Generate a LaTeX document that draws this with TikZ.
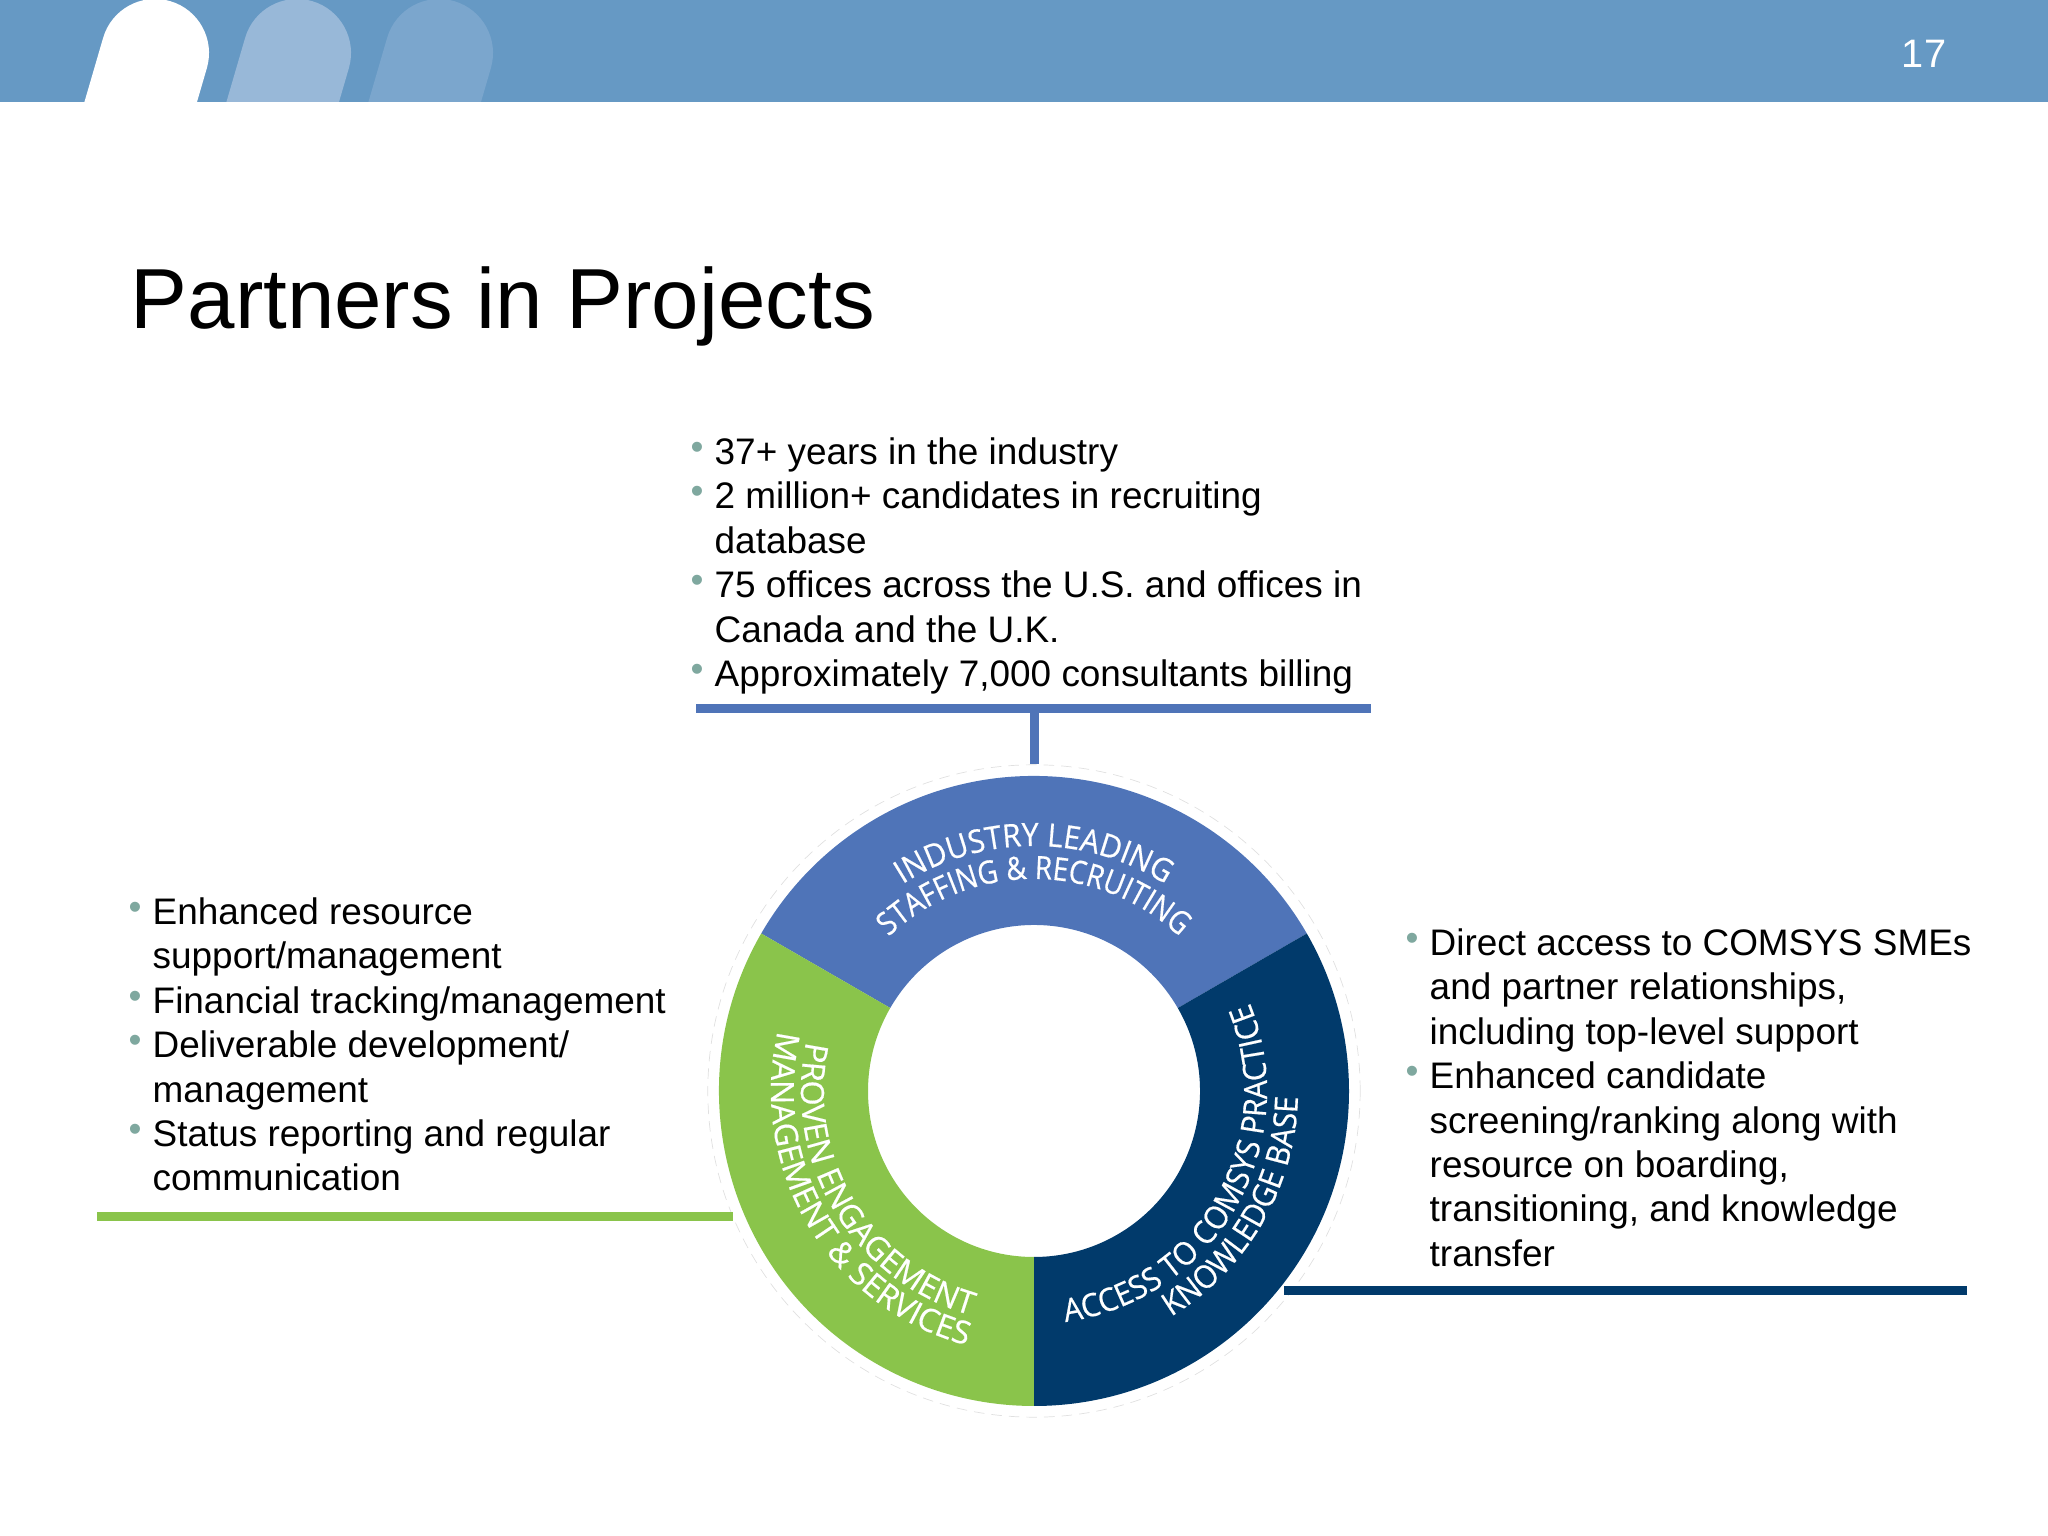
\documentclass[tikz,border=0pt]{standalone}
\usepackage{fontspec}
\setmainfont{Liberation Sans}
\newfontfamily\ringfont[FakeBold=.5,FakeStretch=.94]{Open Sans}
\newfontfamily\ringtight[FakeBold=.5,FakeStretch=.87]{Open Sans}
\newfontfamily\ringwide[FakeBold=.5,FakeStretch=1.01]{Open Sans}
\usetikzlibrary{decorations.text}
\definecolor{headerblue}{HTML}{6699C4}
\definecolor{pilltwo}{HTML}{98B8D8}
\definecolor{pillthree}{HTML}{7BA6CD}
\definecolor{staffblue}{HTML}{4F74B8}
\definecolor{knownavy}{HTML}{013A6B}
\definecolor{engagegreen}{HTML}{8AC44B}
\definecolor{bulletgreen}{HTML}{7FA89F}
\newcommand{\bul}{\leavevmode\llap{\textcolor{bulletgreen}{\raisebox{1.5pt}{\fontsize{10.5}{10.5}\selectfont•}}\hspace{3.2pt}}}
\newcommand{\ringtype}{\ringfont\fontsize{9.1}{10}\selectfont\color{white}}
\newcommand{\ringtypetight}{\ringtight\fontsize{9.1}{10}\selectfont\color{white}}
\newcommand{\ringtypewide}{\ringwide\fontsize{9.1}{10}\selectfont\color{white}}
\tikzset{
  listbox/.style={anchor=north west,inner sep=0pt,align=left,font=\fontsize{10.5}{12.63}\selectfont},
  pill/.style={line width=1.08cm,line cap=round},
  bar/.style={line width=.09cm},
  ringtext/.style={postaction={decorate,decoration={text along path,text align=center,text={#1}}}}
}

\begin{document}
\begin{tikzpicture}[x=.01cm,y=.01cm]
            \useasboundingbox (0,0) rectangle (2048,1536);

            % header
            \fill[headerblue] (0,1434) rectangle (2048,1536);
            \begin{scope}
                \clip (0,1434) rectangle (2048,1536);
                \draw[pill,white] (155,1483) -- (120,1363);
                \draw[pill,pilltwo] (297,1483) -- (262,1363);
                \draw[pill,pillthree] (439,1483) -- (404,1363);
            \end{scope}
            \node[white,font=\fontsize{11.3}{13}\selectfont] (pagenum) at (1924,1482) {17};
            \node[anchor=base west,inner sep=0pt,font=\fontsize{24.25}{28}\selectfont] (title) at (130,1207) {Partners in Projects};

            % lists
            \node[listbox] (toplist) at (714,1099) {\bul 37+ years in the industry\\
                \bul 2 million+ candidates in recruiting\\
                database\\
                \bul 75 offices across the U.S. and offices in\\
                Canada and the U.K.\\
                \bul Approximately 7,000 consultants billing};
            \node[listbox] (leftlist) at (152,639) {\bul Enhanced resource\\
                support/management\\
                \bul Financial tracking/management\\
                \bul Deliverable development/\\
                management\\
                \bul Status reporting and regular\\
                communication};
            \node[listbox] (rightlist) at (1429,608) {\bul Direct access to COMSYS SMEs\\
                and partner relationships,\\
                including top-level support\\
                \bul Enhanced candidate\\
                screening/ranking along with\\
                resource on boarding,\\
                transitioning, and knowledge\\
                transfer};

            % ring
            \coordinate (ringc) at (1034,445);
            \node[circle,draw=black!12,densely dashed,line width=.2pt,minimum size=6.52cm,inner sep=0pt] (ring) at (ringc) {};
            \begin{scope}[shift={(ringc)}]
                \fill[staffblue] (30:315) arc[start angle=30,end angle=150,radius=315] -- (150:166) arc[start angle=150,end angle=30,radius=166] -- cycle;
                \fill[engagegreen] (150:315) arc[start angle=150,end angle=270,radius=315] -- (270:166) arc[start angle=270,end angle=150,radius=166] -- cycle;
                \fill[knownavy] (270:315) arc[start angle=270,end angle=390,radius=315] -- (30:166) arc[start angle=390,end angle=270,radius=166] -- cycle;

                \path[ringtext={|\ringtype|INDUSTRY LEADING}] (170:245) arc[start angle=170,end angle=10,radius=245];
                \path[ringtext={|\ringtypetight|STAFFING {\&} RECRUITING}] (170:212) arc[start angle=170,end angle=10,radius=212];
                \path[ringtext={|\ringtypewide|PROVEN ENGAGEMENT}] (131:233) arc[start angle=131,end angle=291,radius=233];
                \path[ringtext={|\ringtypewide|MANAGEMENT {\&} SERVICES}] (131:263) arc[start angle=131,end angle=291,radius=263];
                \path[ringtext={|\ringtype|ACCESS TO COMSYS PRACTICE}] (250:233) arc[start angle=250,end angle=410,radius=233];
                \path[ringtext={|\ringtype|KNOWLEDGE BASE}] (250:264) arc[start angle=250,end angle=410,radius=264];
            \end{scope}

            % connectors
            \coordinate (topl) at (696,827);
            \coordinate (topr) at (1371,827);
            \coordinate (greenl) at (97,319);
            \coordinate (navyr) at (1967,245);
            \draw[bar,staffblue] (topl) -- (topr);
            \draw[bar,staffblue] (ring.north |- topl) -- (ring.north);
            \draw[bar,engagegreen] (greenl) -- (greenl -| ring.203);
            \draw[bar,knownavy] (navyr) -- (navyr -| ring.320.6);
\end{tikzpicture}
\end{document}
